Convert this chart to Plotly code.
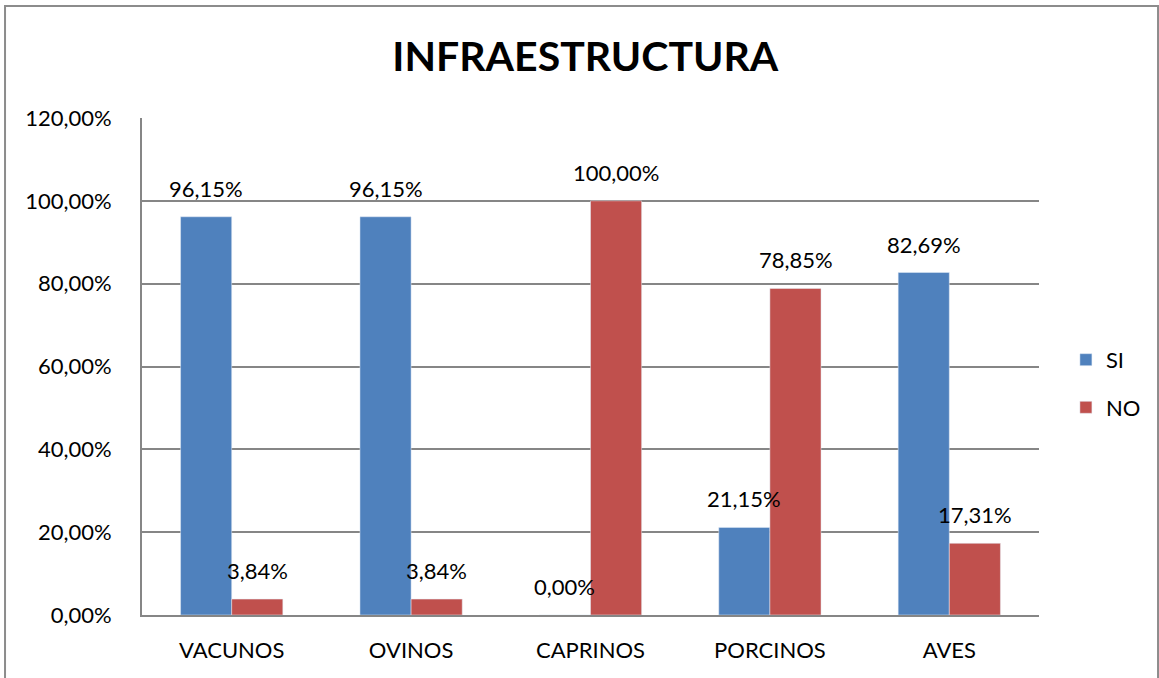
import plotly.graph_objects as go

categories = ["VACUNOS", "OVINOS", "CAPRINOS", "PORCINOS", "AVES"]
si_values = [0.9615, 0.9615, 0.0, 0.2115, 0.8269]
no_values = [0.0384, 0.0384, 1.0, 0.7885, 0.1731]

FONT = "Lato, 'Open Sans', sans-serif"
FS = 22

fig = go.Figure()
fig.add_trace(go.Bar(x=categories, y=si_values, name="SI", marker_color="#4F81BD",
                     legendgroup="si"))
fig.add_trace(go.Bar(x=categories, y=no_values, name="NO", marker_color="#C0504D",
                     legendgroup="no"))

# data labels above each bar (SI left of category centre, NO right)
for vals, shift in ((si_values, -25.6), (no_values, 25.6)):
    for cat, v in zip(categories, vals):
        fig.add_annotation(x=cat, y=v, xshift=shift, yshift=13,
                           text=f"{v * 100:.2f}%".replace(".", ","),
                           showarrow=False, yanchor="bottom",
                           font=dict(size=FS, color="black"))

# outer chart border (paper coords relative to plot area)
fig.add_shape(type="rect", xref="paper", yref="paper",
              x0=-0.1527, x1=1.1327, y0=-0.14, y1=1.2254,
              line=dict(color="#8c8c8c", width=2), layer="below")

fig.update_layout(
    width=1159, height=678,
    margin=dict(l=142, r=120, t=118, b=63, autoexpand=False),
    paper_bgcolor="white", plot_bgcolor="white",
    separators=",.",
    font=dict(family=FONT, size=FS, color="black"),
    title=dict(text="<b>INFRAESTRUCTURA</b>", x=0.505, xanchor="center",
               y=0.916, yanchor="middle", font=dict(size=41, color="black")),
    barmode="group", bargap=0.43, bargroupgap=0,
    legend=dict(x=1.03, y=0.465, xanchor="left", yanchor="middle",
                font=dict(size=FS), tracegroupgap=16, itemwidth=30),
    xaxis=dict(showline=True, linecolor="#868686", linewidth=2,
               ticks="", ticklabelstandoff=15),
    yaxis=dict(range=[0, 1.2], dtick=0.2, tickformat=".2%",
               showgrid=True, gridcolor="#868686", gridwidth=1.5,
               showline=True, linecolor="#868686", linewidth=2,
               zeroline=False, ticklabelstandoff=24),
)

fig.write_html("out.html", config={"displayModeBar": False},
               post_script="document.body.style.margin='0';")
